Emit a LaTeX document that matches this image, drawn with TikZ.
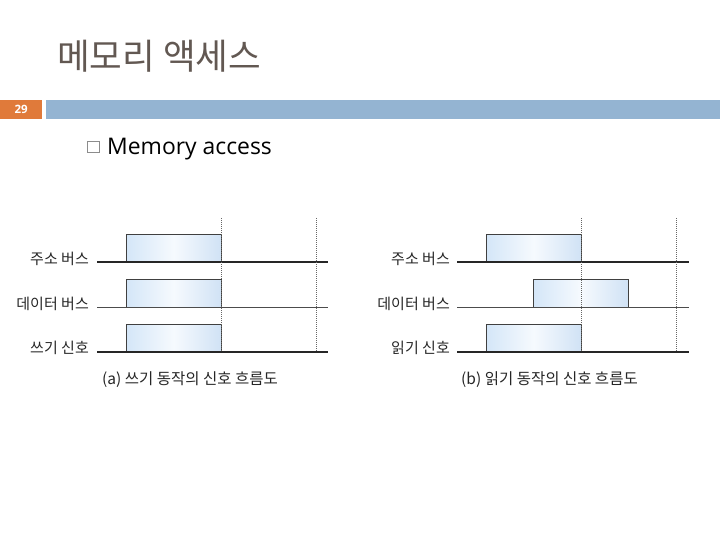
\documentclass[tikz,border=0pt]{standalone}
\usepackage{fontspec}
\setmainfont{Noto Sans CJK KR}
\newfontfamily\latinf{Open Sans}
\definecolor{titlec}{RGB}{98,88,82}
\definecolor{numorange}{RGB}{224,122,58}
\definecolor{barblue}{RGB}{148,180,210}
\definecolor{sigl}{RGB}{212,230,248}
\definecolor{sigm}{RGB}{246,250,254}
\definecolor{sigr}{RGB}{208,226,245}
\begin{document}
\begin{tikzpicture}[x=1pt,y=-1pt,
  lbl/.style={font=\fontsize{15}{15}\selectfont, text=black!85, anchor=east, inner sep=0},
  captxt/.style={font=\fontsize{15.5}{15.5}\selectfont, text=black!85, inner sep=0},
  sig/.style={draw=black!75, line width=0.9pt, left color=sigl, right color=sigr, middle color=sigm,
    anchor=north west, inner sep=0, minimum width=95pt, minimum height=28pt},
  busthick/.style={draw=black!85, line width=1.3pt},
  busthin/.style={draw=black!70, line width=0.8pt},
  dotline/.style={draw=black!60, line width=0.8pt, dash pattern=on 1pt off 1pt}]
\useasboundingbox (0,0) rectangle (720,540);
% header
\node[anchor=base west, font=\fontsize{35.5}{35.5}\selectfont, text=titlec, inner sep=0] (title) at (57,70) {메모리 액세스};
\node[fill=numorange, anchor=north west, minimum width=42pt, minimum height=19pt, inner sep=0,
  text=white, font=\latinf\bfseries\fontsize{11.5}{11.5}\selectfont] (num) at (0,100) {29};
\node[fill=barblue, anchor=north west, minimum width=674pt, minimum height=19pt, inner sep=0] (bar) at (46,100) {};
\node[draw=black!45, line width=0.6pt, anchor=north west, minimum width=12pt, minimum height=11pt, inner sep=0] (bullet) at (87,141.5) {};
\node[anchor=base west, font=\latinf\fontsize{22.9}{22.9}\selectfont, text=black, inner sep=0] (head) at (107,155) {Memory access};
% ---------- (a) write ----------
\coordinate (a1s) at (97,262); \coordinate (a1e) at (328,262);
\coordinate (a2s) at (97,307); \coordinate (a2e) at (328,307);
\coordinate (a3s) at (97,352); \coordinate (a3e) at (328,352);
\node[sig] (ra1) at (126,234) {};
\node[sig] (ra2) at (126,279) {};
\node[sig] (ra3) at (126,324) {};
\draw[busthick] (a1s) -- (a1e);
\draw[busthin] (a2s) -- (a2e);
\draw[busthick] (a3s) -- (a3e);
\coordinate (ad1t) at (221,218); \coordinate (ad1b) at (221,352);
\coordinate (ad2t) at (316,218); \coordinate (ad2b) at (316,352);
\draw[dotline] (ad1t) -- (ad1b);
\draw[dotline] (ad2t) -- (ad2b);
\node[lbl] (la1) at (89,259) {주소 버스};
\node[lbl] (la2) at (89,304) {데이터 버스};
\node[lbl] (la3) at (89,348) {쓰기 신호};
\node[captxt] (capa) at (190,380) {(a) 쓰기 동작의 신호 흐름도};
% ---------- (b) read ----------
\coordinate (b1s) at (457,262); \coordinate (b1e) at (689,262);
\coordinate (b2s) at (457,307); \coordinate (b2e) at (689,307);
\coordinate (b3s) at (457,352); \coordinate (b3e) at (689,352);
\node[sig] (rb1) at (486,234) {};
\node[sig] (rb2) at (533,279) {};
\node[sig] (rb3) at (486,324) {};
\draw[busthick] (b1s) -- (b1e);
\draw[busthin] (b2s) -- (b2e);
\draw[busthick] (b3s) -- (b3e);
\coordinate (bd1t) at (581,218); \coordinate (bd1b) at (581,352);
\coordinate (bd2t) at (676,218); \coordinate (bd2b) at (676,352);
\draw[dotline] (bd1t) -- (bd1b);
\draw[dotline] (bd2t) -- (bd2b);
\node[lbl] (lb1) at (450,259) {주소 버스};
\node[lbl] (lb2) at (450,304) {데이터 버스};
\node[lbl] (lb3) at (450,348) {읽기 신호};
\node[captxt] (capb) at (549.5,380) {(b) 읽기 동작의 신호 흐름도};
\end{tikzpicture}
\end{document}
